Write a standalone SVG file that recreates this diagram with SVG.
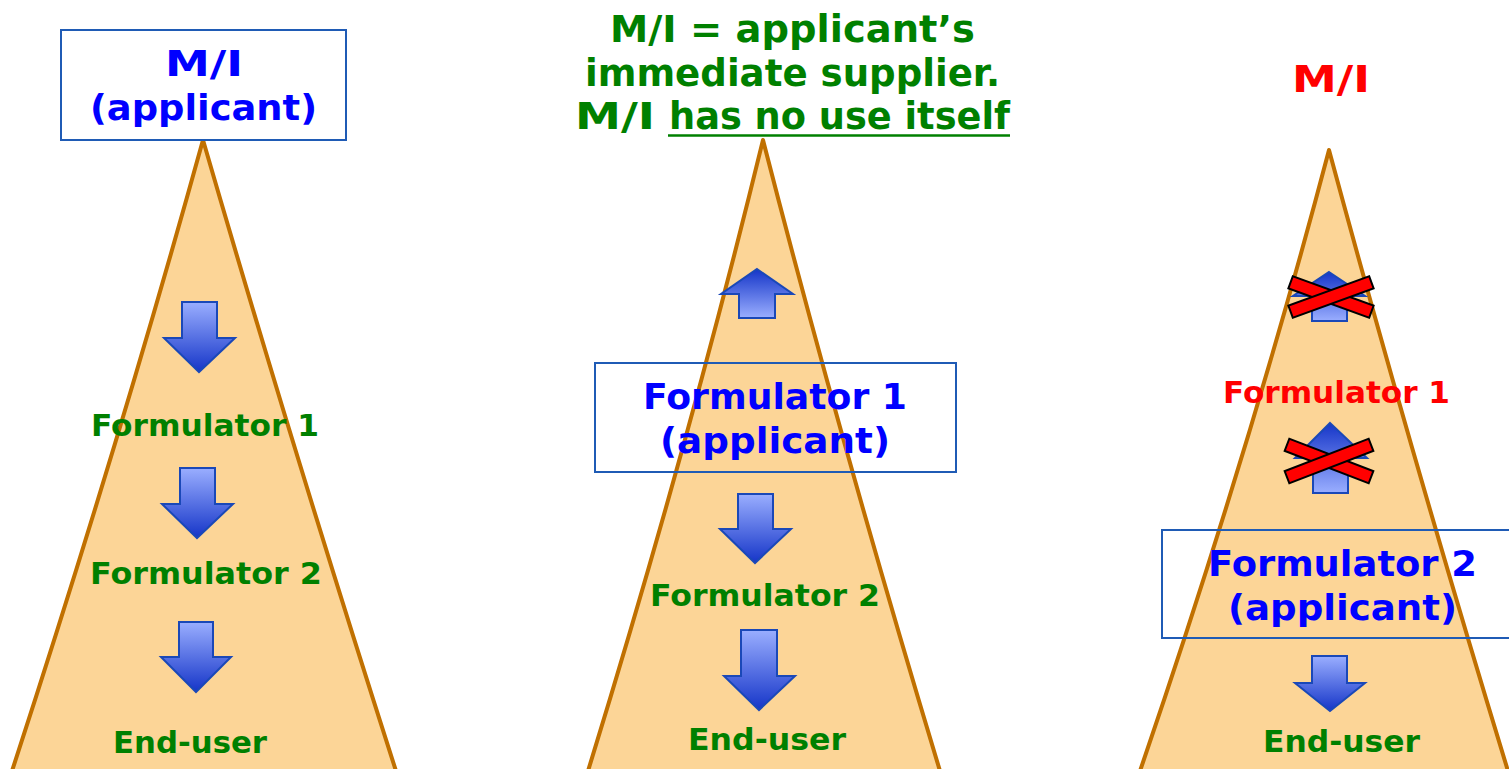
<svg xmlns="http://www.w3.org/2000/svg" width="1509" height="769" viewBox="0 0 1509 769">
<defs>
<linearGradient id="gDown" x1="0" y1="0" x2="0" y2="1">
<stop offset="0" stop-color="#9aaeff"/>
<stop offset="1" stop-color="#1535c8"/>
</linearGradient>
<linearGradient id="gUp" x1="0" y1="1" x2="0" y2="0">
<stop offset="0" stop-color="#9aaeff"/>
<stop offset="1" stop-color="#1535c8"/>
</linearGradient>
<style>
.tri{fill:#fcd597;stroke:#c07000;stroke-width:4;stroke-linejoin:round}
.box{fill:none;stroke:#1f5bb5;stroke-width:2}
.boxw{fill:#fff;stroke:#1f5bb5;stroke-width:2}
.t{font-family:"DejaVu Sans",Verdana,sans-serif;font-weight:bold;text-anchor:middle}
.tl{font-family:"DejaVu Sans",Verdana,sans-serif;font-weight:bold;text-anchor:start}
.g{fill:#008000;font-size:31px}
.gt{fill:#008000;font-size:37px}
.b{fill:#0000ff;font-size:36px}
.r{fill:#ff0000}
.down{fill:url(#gDown);stroke:#1a48b8;stroke-width:2;stroke-linejoin:miter}
.up{fill:url(#gUp);stroke:#1a48b8;stroke-width:2;stroke-linejoin:miter}
.x{fill:#ff0000;stroke:#000;stroke-width:2}
</style>
</defs>
<rect width="1509" height="769" fill="#fff"/>

<g id="pyramid1">
<path class="tri" d="M203,140 Q120,440 12,771 L396,771 Q290,440 203,140 Z"/>
<g id="box1">
<rect class="boxw" x="61" y="30" width="285" height="110"/>
<text class="t b" x="204" y="76" textLength="78" lengthAdjust="spacingAndGlyphs">M/I</text>
<text class="t b" x="203.5" y="120" textLength="227" lengthAdjust="spacingAndGlyphs">(applicant)</text>
</g>
<text class="t g" x="205" y="436" textLength="228" lengthAdjust="spacingAndGlyphs">Formulator 1</text>
<text class="t g" x="206" y="584" textLength="232" lengthAdjust="spacingAndGlyphs">Formulator 2</text>
<text class="t g" x="190" y="753" textLength="154" lengthAdjust="spacingAndGlyphs">End-user</text>
</g>

<g id="pyramid2">
<path class="tri" d="M763,140 Q690,440 588,771 L940,771 Q840,440 763,140 Z"/>
<g id="title2">
<text class="t gt" x="792.5" y="42" textLength="365" lengthAdjust="spacingAndGlyphs">M/I = applicant’s</text>
<text class="t gt" x="792.5" y="86" textLength="415" lengthAdjust="spacingAndGlyphs">immediate supplier.</text>
<text class="tl gt" x="575" y="129" textLength="80" lengthAdjust="spacingAndGlyphs">M/I</text>
<text class="tl gt" x="669" y="129" textLength="341" lengthAdjust="spacingAndGlyphs">has no use itself</text>
<line x1="668" y1="135.5" x2="1010" y2="135.5" stroke="#008000" stroke-width="2.5"/>
</g>
<g id="box2">
<rect class="box" x="595" y="363" width="361" height="109"/>
<text class="t b" x="775" y="409" textLength="264" lengthAdjust="spacingAndGlyphs">Formulator 1</text>
<text class="t b" x="775" y="453" textLength="230" lengthAdjust="spacingAndGlyphs">(applicant)</text>
</g>
<text class="t g" x="765" y="606" textLength="230" lengthAdjust="spacingAndGlyphs">Formulator 2</text>
<text class="t g" x="767" y="750" textLength="158" lengthAdjust="spacingAndGlyphs">End-user</text>
</g>

<g id="pyramid3">
<path class="tri" d="M1329,150 Q1250,450 1140,771 L1508,771 Q1410,450 1329,150 Z"/>
<text class="t r" x="1331" y="92" style="font-size:37px" textLength="78" lengthAdjust="spacingAndGlyphs">M/I</text>
<text class="t r" x="1336.5" y="403" style="font-size:30px" textLength="227" lengthAdjust="spacingAndGlyphs">Formulator 1</text>
<g id="box3">
<rect class="box" x="1162" y="530" width="352" height="108"/>
<text class="t b" x="1342.5" y="576" textLength="269" lengthAdjust="spacingAndGlyphs">Formulator 2</text>
<text class="t b" x="1342.5" y="620" textLength="229" lengthAdjust="spacingAndGlyphs">(applicant)</text>
</g>
<text class="t g" x="1341.5" y="752" textLength="157" lengthAdjust="spacingAndGlyphs">End-user</text>
</g>

<g id="connectors">
<path class="down" d="M182,302 H217 V338 H235 L199,372 L164,338 H182 Z"/>
<path class="down" d="M180,468 H215 V504 H233 L197,538 L162,504 H180 Z"/>
<path class="down" d="M179,622 H213 V657 H231 L196,692 L161,657 H179 Z"/>
<path class="up" d="M757,269 L793,294 H775 V318 H739 V294 H721 Z"/>
<path class="down" d="M738,494 H773 V529 H791 L755,563 L720,529 H738 Z"/>
<path class="down" d="M741,630 H777 V676 H795 L759,710 L724,676 H741 Z"/>
<path class="up" d="M1329,272 L1365,296 H1347 V321 H1312 V296 H1293 Z"/>
<path class="up" d="M1330,423 L1367,458 H1348 V493 H1313 V458 H1295 Z"/>
<path class="down" d="M1312,656 H1347 V683 H1365 L1330,711 L1295,683 H1312 Z"/>
<g id="cross1">
<rect class="x" x="-43" y="-6.5" width="86" height="13" transform="translate(1331,297) rotate(20)"/>
<rect class="x" x="-43" y="-6.5" width="86" height="13" transform="translate(1331,297) rotate(-20)"/>
</g>
<g id="cross2">
<rect class="x" x="-45" y="-6.5" width="90" height="13" transform="translate(1329,461) rotate(21)"/>
<rect class="x" x="-45" y="-6.5" width="90" height="13" transform="translate(1329,461) rotate(-21)"/>
</g>
</g>
</svg>
